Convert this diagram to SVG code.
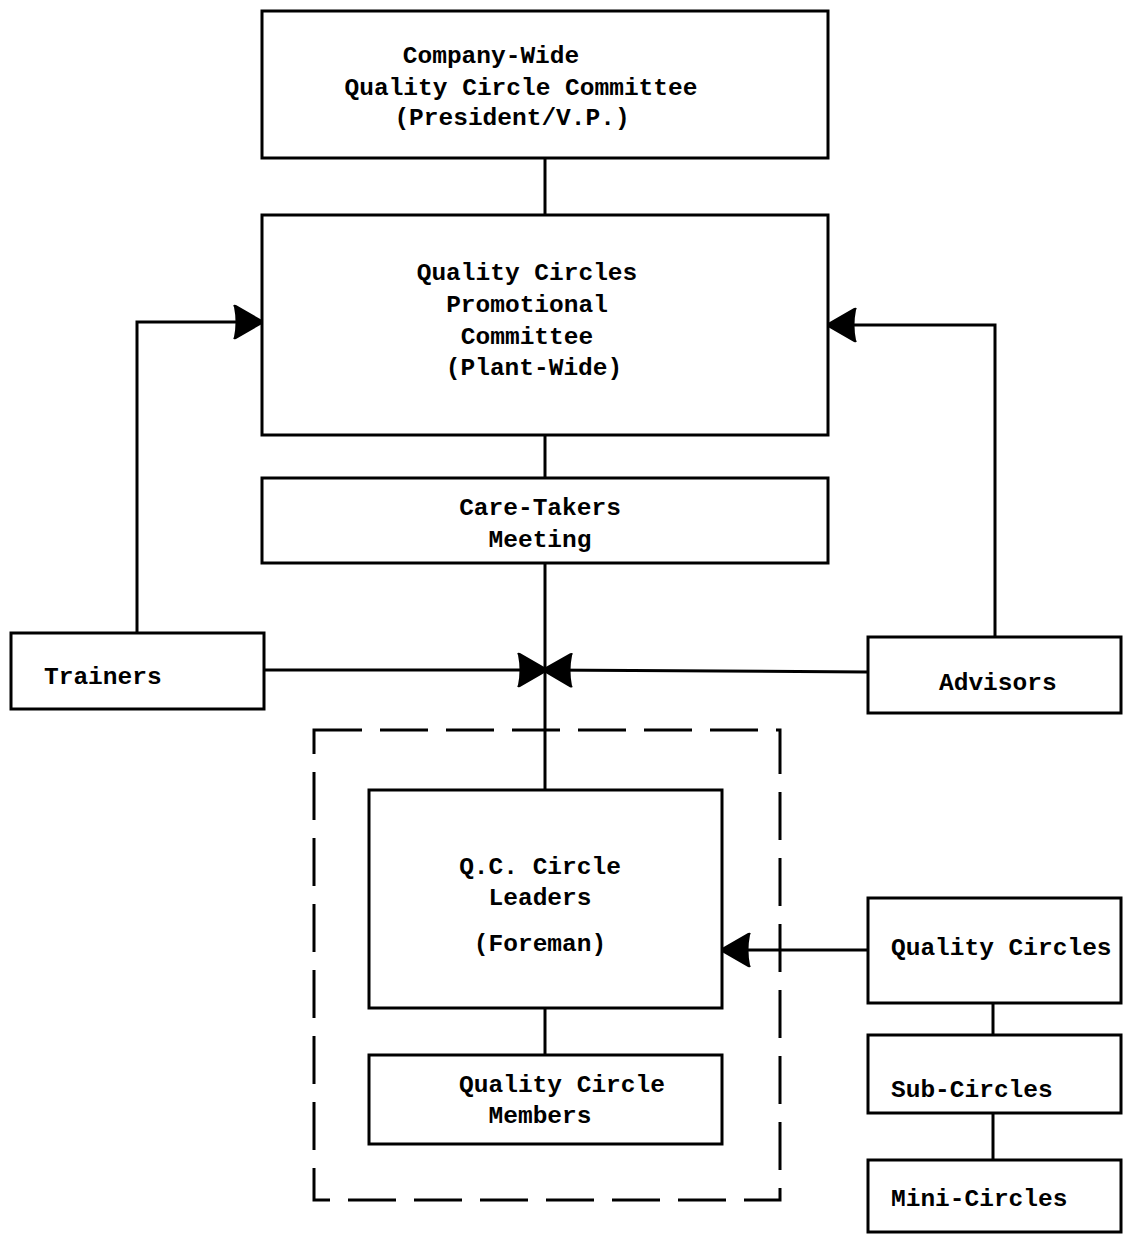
<svg xmlns="http://www.w3.org/2000/svg" width="1123" height="1234" viewBox="0 0 1123 1234">
<style>
.box{fill:#fff;stroke:#000;stroke-width:3}
.ln{fill:none;stroke:#000;stroke-width:3}
.dash{fill:none;stroke:#000;stroke-width:3;stroke-dasharray:48 18}
text{font-family:"Liberation Mono","DejaVu Sans Mono",monospace;font-weight:bold;font-size:24.5px;fill:#000}
.c{text-anchor:middle}
</style>
<defs>
<marker id="ah" viewBox="0 0 30 36" refX="30" refY="18" markerWidth="30" markerHeight="36" markerUnits="userSpaceOnUse" orient="auto">
<path d="M2,3 Q0,0 4,1 L30,16 L30,20 L4,35 Q0,36 2,33 Q5,18 2,3 Z" fill="#000"/>
</marker>
</defs>
<rect width="1123" height="1234" fill="#fff"/>
<g id="connectors">
<line class="ln" x1="545" y1="158" x2="545" y2="215"/>
<line class="ln" x1="545" y1="435" x2="545" y2="478"/>
<line class="ln" x1="545" y1="563" x2="545" y2="790"/>
<line class="ln" x1="545" y1="1008" x2="545" y2="1055"/>
<polyline class="ln" points="137,633 137,322 262,322" marker-end="url(#ah)"/>
<polyline class="ln" points="995,637 995,325 828,325" marker-end="url(#ah)"/>
<line class="ln" x1="264" y1="670" x2="546" y2="670" marker-end="url(#ah)"/>
<line class="ln" x1="868" y1="672" x2="544" y2="670" marker-end="url(#ah)"/>
<line class="ln" x1="868" y1="950" x2="722" y2="950" marker-end="url(#ah)"/>
<line class="ln" x1="993" y1="1003" x2="993" y2="1035"/>
<line class="ln" x1="993" y1="1113" x2="993" y2="1160"/>
</g>
<g id="group-boundary">
<rect class="dash" x="314" y="730" width="466" height="470"/>
</g>
<g id="company-committee">
<rect class="box" x="262" y="11" width="566" height="147"/>
<text class="c" x="491" y="63">Company-Wide</text>
<text class="c" x="521" y="95">Quality Circle Committee</text>
<text class="c" x="512" y="125">(President/V.P.)</text>
</g>
<g id="promotional-committee">
<rect class="box" x="262" y="215" width="566" height="220"/>
<text class="c" x="527" y="280">Quality Circles</text>
<text class="c" x="527" y="312">Promotional</text>
<text class="c" x="527" y="344">Committee</text>
<text class="c" x="534" y="375">(Plant-Wide)</text>
</g>
<g id="care-takers">
<rect class="box" x="262" y="478" width="566" height="85"/>
<text class="c" x="540" y="515">Care-Takers</text>
<text class="c" x="540" y="547">Meeting</text>
</g>
<g id="trainers">
<rect class="box" x="11" y="633" width="253" height="76"/>
<text x="44" y="684">Trainers</text>
</g>
<g id="advisors">
<rect class="box" x="868" y="637" width="253" height="76"/>
<text x="939" y="690">Advisors</text>
</g>
<g id="qc-leaders">
<rect class="box" x="369" y="790" width="353" height="218"/>
<text class="c" x="540" y="874">Q.C. Circle</text>
<text class="c" x="540" y="905">Leaders</text>
<text class="c" x="540" y="951">(Foreman)</text>
</g>
<g id="qc-members">
<rect class="box" x="369" y="1055" width="353" height="89"/>
<text class="c" x="562" y="1092">Quality Circle</text>
<text class="c" x="540" y="1123">Members</text>
</g>
<g id="quality-circles">
<rect class="box" x="868" y="898" width="253" height="105"/>
<text x="891" y="955">Quality Circles</text>
</g>
<g id="sub-circles">
<rect class="box" x="868" y="1035" width="253" height="78"/>
<text x="891" y="1097">Sub-Circles</text>
</g>
<g id="mini-circles">
<rect class="box" x="868" y="1160" width="253" height="72"/>
<text x="891" y="1206">Mini-Circles</text>
</g>
</svg>
